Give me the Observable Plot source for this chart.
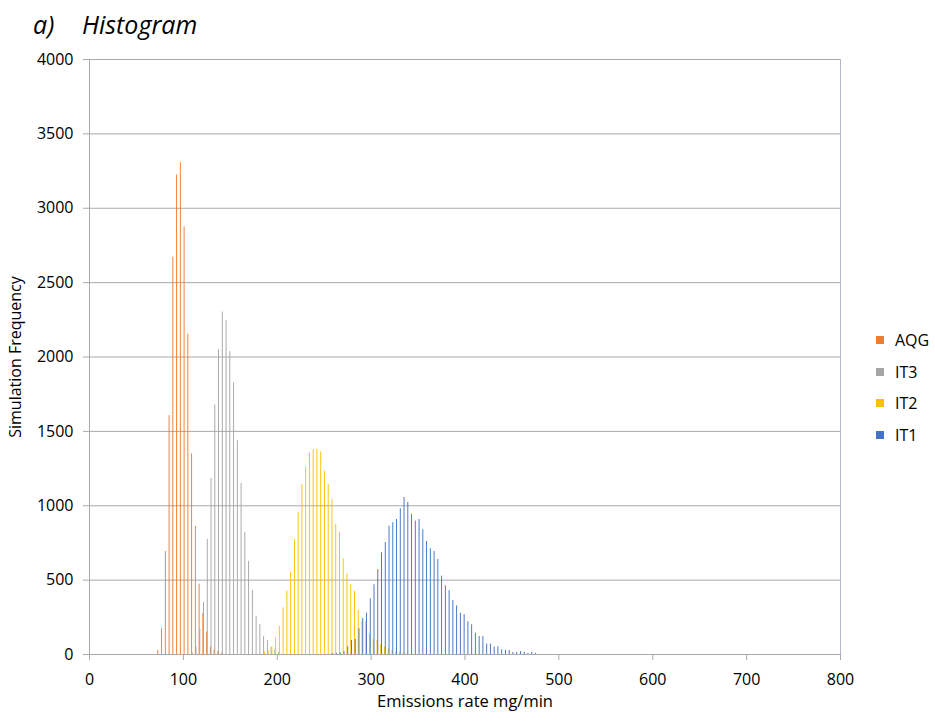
<!DOCTYPE html>
<html>
<head>
<meta charset="utf-8">
<script src="https://cdn.jsdelivr.net/npm/d3@7"></script>
<script src="https://cdn.jsdelivr.net/npm/@observablehq/plot@0.6"></script>
<style>
  html, body { margin: 0; padding: 0; background: #fff; }
  #wrap { position: relative; width: 935px; height: 721px; font-family: "Open Sans", sans-serif; color: #000; }
  #title { position: absolute; left: 0; top: 0; font-style: italic; font-size: 25px; }
  #title span { position: absolute; top: 7px; white-space: nowrap; }
  #legend { position: absolute; left: 876px; top: 328px; font-size: 16px; }
  .item { position: absolute; left: 0; height: 24px; display: flex; align-items: center; white-space: nowrap; }
  .sw { width: 8px; height: 8px; margin-right: 11px; }
</style>
</head>
<body>
<div id="wrap">
  <div id="chart"></div>
  <div id="title"><span style="left:33px">a)</span><span style="left:82px">Histogram</span></div>
  <div id="legend"></div>
</div>
<script>
// Histogram of simulated emission rates (mg/min), 4 mg/min bins
const seriesNames = ["AQG", "IT3", "IT2", "IT1"];
const seriesColors = ["#ED7D31", "#A5A5A5", "#FFC000", "#4472C4"];

const aqgBins = [72, 76, 80, 84, 88, 92, 96, 100, 104, 108, 112, 116, 120, 124, 128, 132, 136, 140];
const aqgFreq = [29, 174, 693, 1606, 2671, 3224, 3306, 2875, 2154, 1349, 861, 473, 275, 151, 50, 32, 20, 9];

const it3Bins = [108, 112, 116, 120, 124, 128, 132, 136, 140, 144, 148, 152, 156, 160, 164, 168, 172, 176, 180, 184, 188, 192, 196, 200];
const it3Freq = [10, 50, 170, 349, 774, 1183, 1678, 2049, 2302, 2246, 2036, 1826, 1438, 1150, 821, 626, 430, 257, 200, 121, 94, 49, 36, 13];

const it2Bins = [184, 188, 192, 196, 200, 204, 208, 212, 216, 220, 224, 228, 232, 236, 240, 244, 248, 252, 256, 260, 264, 268, 272, 276, 280, 284, 288, 292, 296, 300, 304, 308, 312, 316, 320, 324, 328, 332, 336];
const it2Freq = [16, 27, 49, 110, 188, 314, 426, 552, 774, 955, 1143, 1260, 1354, 1377, 1379, 1363, 1233, 1143, 1040, 874, 823, 643, 543, 471, 426, 296, 224, 224, 137, 99, 94, 67, 49, 38, 27, 20, 13, 11, 9];

const it1Bins = [256, 260, 264, 268, 272, 276, 280, 284, 288, 292, 296, 300, 304, 308, 312, 316, 320, 324, 328, 332, 336, 340, 344, 348, 352, 356, 360, 364, 368, 372, 376, 380, 384, 388, 392, 396, 400, 404, 408, 412, 416, 420, 424, 428, 432, 436, 440, 444, 448, 452, 456, 460, 464, 468, 472];
const it1Freq = [7, 7, 11, 20, 52, 94, 101, 173, 242, 278, 374, 469, 570, 684, 753, 863, 886, 908, 980, 1056, 1022, 942, 897, 908, 839, 760, 711, 693, 639, 527, 462, 430, 363, 327, 278, 269, 220, 200, 143, 121, 121, 70, 70, 50, 52, 32, 29, 27, 14, 14, 20, 14, 7, 14, 7];

const xTicks = [0, 100, 200, 300, 400, 500, 600, 700, 800];
const yTicks = [0, 500, 1000, 1500, 2000, 2500, 3000, 3500, 4000];

// clustered columns: each series sits at its own slot inside the 4-unit bin
const slot = [0.8, 1.5, 2.3, 3.1];
const barW = 1.0;

const sets = [[aqgBins, aqgFreq], [it3Bins, it3Freq], [it2Bins, it2Freq], [it1Bins, it1Freq]];
const rows = sets.flatMap(([bins, freq], i) =>
  bins.map((b, j) => ({series: seriesNames[i], bin: b, freq: freq[j], s: i}))
);

const gridColor = "#a9a9a9";
const plain = d => String(d);

const plot = Plot.plot({
  width: 935,
  height: 721,
  marginLeft: 89,
  marginRight: 95,
  marginTop: 59,
  marginBottom: 67,
  style: {fontFamily: "Open Sans, sans-serif", fontSize: "16px", color: "#000", background: "#fff"},
  x: {domain: [0, 800], ticks: xTicks},
  y: {domain: [0, 4000], ticks: yTicks},
  color: {domain: seriesNames, range: seriesColors},
  marks: [
    Plot.ruleY(yTicks, {stroke: gridColor, strokeWidth: 1}),
    Plot.rectY(rows, {
      x1: d => d.bin + slot[d.s],
      x2: d => d.bin + slot[d.s] + barW,
      y1: 0,
      y2: "freq",
      fill: "series"
    }),
    Plot.ruleX([0], {stroke: gridColor}),
    Plot.ruleX([800], {stroke: "#b0b8c8"}),
    Plot.ruleY([0], {stroke: gridColor}),
    Plot.axisX({ticks: xTicks, tickFormat: plain, tickSize: 6, tickPadding: 13, stroke: gridColor, label: null, fill: "#000"}),
    Plot.axisY({ticks: yTicks, tickFormat: plain, tickSize: 6, tickPadding: 10, stroke: gridColor, label: null, fill: "#000"}),
    Plot.text(["Emissions rate mg/min"], {frameAnchor: "bottom", dy: 52, fontSize: 16.5, fill: "#000"}),
    Plot.text(["Simulation Frequency"], {frameAnchor: "left", textAnchor: "middle", dx: -74, rotate: -90, fontSize: 16, fill: "#000"})
  ]
});
document.getElementById("chart").appendChild(plot);

// legend, listed in series order
const legend = document.getElementById("legend");
seriesNames.forEach((name, i) => {
  const item = document.createElement("div");
  item.className = "item";
  item.style.top = (i * 31.7) + "px";
  const sw = document.createElement("span");
  sw.className = "sw";
  sw.style.background = seriesColors[i];
  item.appendChild(sw);
  item.appendChild(document.createTextNode(name));
  legend.appendChild(item);
});
</script>
</body>
</html>
